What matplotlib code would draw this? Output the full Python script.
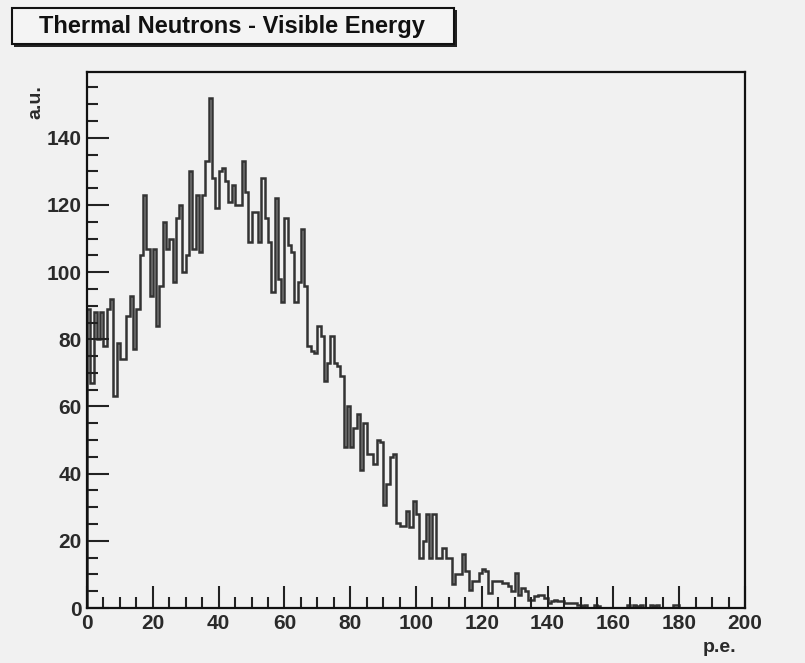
import numpy as np
import matplotlib
matplotlib.use("Agg")
import matplotlib.pyplot as plt
from matplotlib.patches import Rectangle
from matplotlib.ticker import MultipleLocator

# ---- data (1 p.e. wide bins, 0..200) ----
counts_0_49 = [89, 67, 88, 80, 88, 78, 89, 92, 63,
               79, 74, 74, 87, 93, 77, 89, 105, 123,
               107, 93, 107, 84, 96, 115, 107, 110, 97, 116, 120, 100,
               105, 130, 107, 123, 106, 123, 133, 152,
               128, 119, 130, 131, 127, 121, 126, 120, 120, 133, 124, 109]
counts_50_99 = [118, 118, 109, 128, 116, 109, 94, 122, 98, 91, 116, 108, 106, 91, 97, 113, 96,
                78, 76.5, 76, 84, 81, 67.6, 73, 81, 73, 72, 69, 48, 60, 48, 53.5, 57.7, 41,
                55, 46, 46, 43, 50, 49.4, 30.6, 37, 45, 46, 25.4, 24.3, 24.3, 29, 24, 32]
counts_100_149 = [28, 15, 20, 28, 15, 28, 15, 15, 18, 15, 15, 7, 10, 10, 16, 11, 5.5, 8, 8, 10.5,
                  11.5, 11, 4.5, 8, 8, 8, 7.5, 7.5, 6.5, 5, 10.5, 4, 6, 5, 2.5, 2.5, 3.5, 4, 4, 3,
                  1.5, 2, 2.5, 2, 2, 1.5, 1.5, 1.5, 1.5, 1]
counts_150_199 = [0.5, 1, 0, 0, 1, 0.5, 0, 0, 0, 0, 0, 0, 0, 0, 1, 0, 1, 0.5, 1, 0,
                  0, 1, 0.5, 1, 0, 0, 0, 0, 1, 1, 0, 0, 0, 0, 0, 0, 0, 0, 0, 0,
                  0, 0, 0, 0, 0, 0, 0, 0, 0, 0]
counts = np.array(counts_0_49 + counts_50_99 + counts_100_149 + counts_150_199, dtype=float)
edges = np.linspace(0, 200, len(counts) + 1)

title = "Thermal Neutrons - Visible Energy"
xlabel = "p.e."
ylabel = "a.u."

# ---- style ----
bg = "#f1f1f1"
plt.rcParams["font.family"] = ["Liberation Sans", "DejaVu Sans"]

fig = plt.figure(figsize=(8.05, 6.63), dpi=100, facecolor=bg)
ax = fig.add_axes([87 / 805, 1 - 608 / 663, (745 - 87) / 805, (608 - 72) / 663])
ax.set_facecolor(bg)

ax.stairs(counts, edges, baseline=0, color="#333333", lw=1.8)

ax.set_xlim(0, 200)
ax.set_ylim(0, 159.6)
ax.xaxis.set_major_locator(MultipleLocator(20))
ax.xaxis.set_minor_locator(MultipleLocator(5))
ax.yaxis.set_major_locator(MultipleLocator(20))
ax.yaxis.set_minor_locator(MultipleLocator(5))
ax.tick_params(which="both", direction="in", top=False, right=False, color="#222222",
               width=1.5)
ax.tick_params(which="major", length=16, labelsize=15, pad=4, labelcolor="#2a2a2a")
ax.tick_params(which="minor", length=8)
for lab in ax.get_xticklabels() + ax.get_yticklabels():
    lab.set_fontweight("bold")
for s in ax.spines.values():
    s.set_linewidth(1.6)
    s.set_color("#111111")

ax.text(-0.078, 0.975, ylabel, transform=ax.transAxes, rotation=90, ha="center", va="top",
        fontsize=14, fontweight="bold", color="#2a2a2a")
ax.text(0.987, -0.058, xlabel, transform=ax.transAxes, ha="right", va="top",
        fontsize=14, fontweight="bold", color="#2a2a2a")

# title box with shadow (figure pixel coords)
W, H = 805, 663
def fr(x0, y0, x1, y1):
    return (x0 / W, 1 - y1 / H), (x1 - x0) / W, (y1 - y0) / H
(xy, w, h) = fr(14, 10, 457, 47)
fig.patches.append(Rectangle(xy, w, h, transform=fig.transFigure, facecolor="#222222",
                             edgecolor="none", zorder=1))
(xy, w, h) = fr(12, 8, 454, 44)
fig.patches.append(Rectangle(xy, w, h, transform=fig.transFigure, facecolor="#f4f4f4",
                             edgecolor="#111111", lw=1.5, zorder=2))
fig.text(232 / W, 1 - 26 / H, title, ha="center", va="center", fontsize=17,
         fontweight="bold", color="#111111", zorder=3)

fig.savefig("out.png", dpi=100, facecolor=bg)
